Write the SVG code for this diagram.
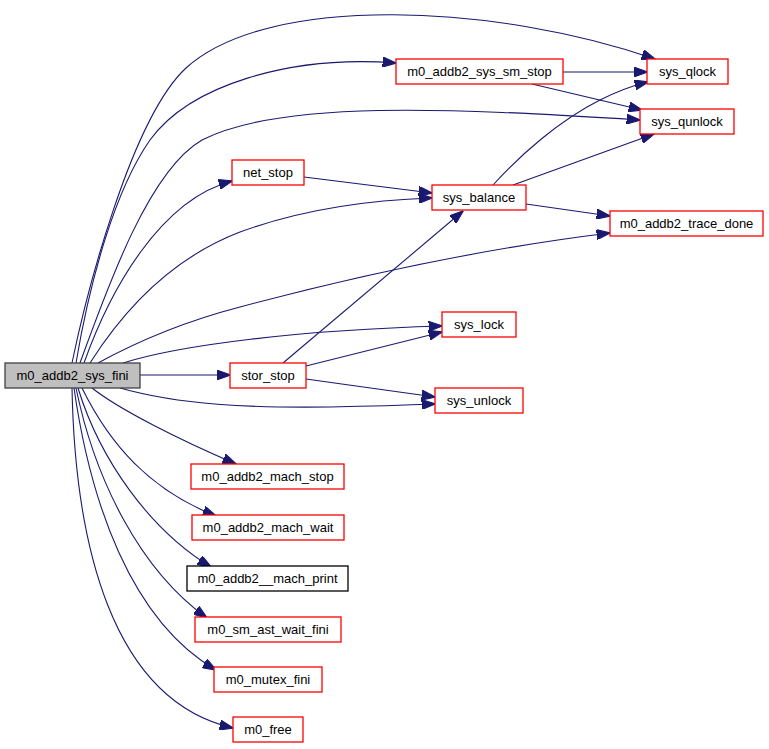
<svg xmlns="http://www.w3.org/2000/svg" width="769" height="749" viewBox="0 0 769 749">
<style>
.n rect{fill:#ffffff;stroke:#ff0000;stroke-width:1.3}
.n text{font-family:"Liberation Sans",Arial,sans-serif;font-size:13px;fill:#000000;text-anchor:middle}
#n_fini rect{fill:#bfbfbf;stroke:#404040}
#n_print rect{stroke:#000000}
.e path{fill:none;stroke:#191970;stroke-width:1.1;marker-end:url(#ah)}
</style>
<defs>
<marker id="ah" markerUnits="userSpaceOnUse" markerWidth="14" markerHeight="10" viewBox="0 0 13 9.4" refX="12.5" refY="4.7" orient="auto">
<path d="M0,0 L13,4.7 L0,9.4 z" fill="#191970" stroke="#191970" stroke-width="1"/>
</marker>
</defs>
<rect x="0" y="0" width="769" height="749" fill="#ffffff"/>
<g class="e" id="edges">
<path d="M72,363 C85,300 130,120 186,68 C270,-8 500,5 655,59"/>
<path d="M76,363 C90,280 115,190 150,140 C190,85 290,55 396,63"/>
<path d="M80,363 C110,280 150,170 202,140 C280,100 450,108 640,120"/>
<path d="M84,363 C110,290 160,200 232,181"/>
<path d="M90,363 C130,300 180,255 240,232 C300,210 370,200 432,198"/>
<path d="M98,363 C140,340 190,320 240,307 C330,283 470,250 610,233"/>
<path d="M123,363 C180,345 300,330 442,326"/>
<path d="M140,375 L230,375"/>
<path d="M120,388 C180,405 250,408 330,407 C380,406 410,405 435,404"/>
<path d="M92,388 C120,410 180,440 236,464"/>
<path d="M82,388 C110,445 150,490 216,516"/>
<path d="M78,388 C100,460 150,530 211,567"/>
<path d="M76,388 C95,480 140,570 207,618"/>
<path d="M74,388 C90,500 130,620 216,670"/>
<path d="M72,388 C75,540 110,700 233,728"/>
<path d="M304,177 L432,193"/>
<path d="M563,72 L647,72"/>
<path d="M532,84 L642,110"/>
<path d="M493,185 C520,155 560,120 600,100 C620,90 635,85 648,82"/>
<path d="M513,185 L654,134"/>
<path d="M526,204 L610,216"/>
<path d="M283,363 L463,211"/>
<path d="M306,366 L442,332"/>
<path d="M306,379 L435,397"/>
</g>
<g class="n" id="n_fini"><rect x="5" y="363" width="135" height="25"/><text x="72.5" y="380">m0_addb2_sys_fini</text></g>
<g class="n" id="n_smstop"><rect x="396" y="59" width="167" height="25"/><text x="479.5" y="76">m0_addb2_sys_sm_stop</text></g>
<g class="n" id="n_qlock"><rect x="647" y="59" width="81" height="25"/><text x="687.5" y="76">sys_qlock</text></g>
<g class="n" id="n_qunlock"><rect x="640" y="109" width="94" height="25"/><text x="687" y="126">sys_qunlock</text></g>
<g class="n" id="n_netstop"><rect x="232" y="160" width="72" height="25"/><text x="268" y="177">net_stop</text></g>
<g class="n" id="n_balance"><rect x="432" y="185" width="94" height="25"/><text x="479" y="202">sys_balance</text></g>
<g class="n" id="n_trace"><rect x="610" y="211" width="153" height="25"/><text x="686.5" y="228">m0_addb2_trace_done</text></g>
<g class="n" id="n_lock"><rect x="442" y="312" width="74" height="25"/><text x="479" y="329">sys_lock</text></g>
<g class="n" id="n_storstop"><rect x="230" y="363" width="76" height="25"/><text x="268" y="380">stor_stop</text></g>
<g class="n" id="n_unlock"><rect x="435" y="388" width="88" height="25"/><text x="479" y="405">sys_unlock</text></g>
<g class="n" id="n_machstop"><rect x="191" y="464" width="153" height="25"/><text x="267.5" y="481">m0_addb2_mach_stop</text></g>
<g class="n" id="n_machwait"><rect x="192" y="515" width="152" height="25"/><text x="268" y="532">m0_addb2_mach_wait</text></g>
<g class="n" id="n_print"><rect x="187" y="566" width="161" height="25"/><text x="267.5" y="583">m0_addb2__mach_print</text></g>
<g class="n" id="n_smast"><rect x="195" y="617" width="146" height="25"/><text x="268" y="634">m0_sm_ast_wait_fini</text></g>
<g class="n" id="n_mutex"><rect x="214" y="667" width="108" height="25"/><text x="268" y="684">m0_mutex_fini</text></g>
<g class="n" id="n_free"><rect x="233" y="717" width="70" height="25"/><text x="268" y="734">m0_free</text></g>
</svg>
